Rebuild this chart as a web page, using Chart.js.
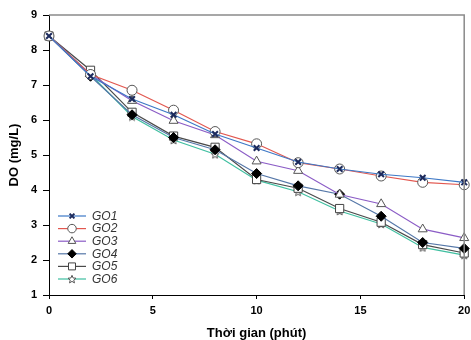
<!DOCTYPE html>
<html>
<head>
<meta charset="utf-8">
<script src="https://cdn.jsdelivr.net/npm/chart.js@4.4.1/dist/chart.umd.min.js"></script>
<style>
  body { margin: 0; background: #fff; }
  canvas { display: block; }
</style>
</head>
<body>
<canvas id="doChart" width="471" height="340"></canvas>
<script>
// Time (minutes) and DO values (mg/L)
const times = [0, 2, 4, 6, 8, 10, 12, 14, 16, 18, 20];
const go1 = [8.4, 7.25, 6.6, 6.15, 5.6, 5.2, 4.8, 4.6, 4.45, 4.35, 4.22];
const go2 = [8.4, 7.3, 6.85, 6.28, 5.67, 5.32, 4.78, 4.6, 4.4, 4.22, 4.15];
const go3 = [8.4, 7.3, 6.55, 5.98, 5.57, 4.82, 4.55, 3.87, 3.6, 2.88, 2.63];
const go4 = [8.4, 7.25, 6.15, 5.5, 5.15, 4.47, 4.12, 3.88, 3.25, 2.5, 2.33];
const go5 = [8.4, 7.42, 6.22, 5.54, 5.22, 4.3, 4.05, 3.47, 3.08, 2.44, 2.2];
const go6 = [8.4, 7.3, 6.1, 5.43, 5.02, 4.28, 3.95, 3.4, 3.03, 2.36, 2.14];
const seriesNames = ['GO1', 'GO2', 'GO3', 'GO4', 'GO5', 'GO6'];
const xTicks = [0, 5, 10, 15, 20];
const yTicks = [1, 2, 3, 4, 5, 6, 7, 8, 9];

// small outlined star used for GO6
function makeStar(size) {
    const c = document.createElement('canvas');
    c.width = size; c.height = size;
    const g = c.getContext('2d');
    const cx = size / 2, cy = size / 2 + 0.5, ro = size / 2 - 0.8, ri = ro * 0.45;
    g.beginPath();
    for (let i = 0; i < 10; i++) {
        const r = i % 2 === 0 ? ro : ri;
        const a = -Math.PI / 2 + i * Math.PI / 5;
        g.lineTo(cx + r * Math.cos(a), cy + r * Math.sin(a));
    }
    g.closePath();
    g.fillStyle = '#fff';
    g.fill();
    g.strokeStyle = '#555';
    g.lineWidth = 1;
    g.stroke();
    return c;
}
const starImg = makeStar(10);

const lineColors = ['#3d78c6', '#e2574f', '#8b5cc6', '#5577a8', '#4a4a4a', '#3fbfa0'];
const values = [go1, go2, go3, go4, go5, go6];
const markers = [
    { pointStyle: 'crossRot', pointRadius: 4, pointBackgroundColor: '#1c2a5c', pointBorderColor: '#1c2a5c', pointBorderWidth: 2 },
    { pointStyle: 'circle', pointRadius: 5, pointBackgroundColor: '#fff', pointBorderColor: '#555', pointBorderWidth: 1 },
    { pointStyle: 'triangle', pointRadius: 5.2, pointBackgroundColor: '#fff', pointBorderColor: '#555', pointBorderWidth: 1 },
    { pointStyle: 'rectRot', pointRadius: 5, pointBackgroundColor: '#000', pointBorderColor: '#000', pointBorderWidth: 1 },
    { pointStyle: 'rect', pointRadius: 5.8, pointBackgroundColor: '#fff', pointBorderColor: '#444', pointBorderWidth: 1 },
    { pointStyle: starImg, pointRadius: 5, pointBackgroundColor: '#fff', pointBorderColor: '#555', pointBorderWidth: 1 }
];

const datasets = seriesNames.map((name, i) => Object.assign({
    label: name,
    data: times.map((t, j) => ({ x: t, y: values[i][j] })),
    borderColor: lineColors[i],
    borderWidth: 1.2,
    tension: 0,
    clip: false
}, markers[i]));

// frame on top/right plus the in-plot legend
const framePlugin = {
    id: 'frameAndLegend',
    afterDatasetsDraw(chart) {
        const { ctx, chartArea: a } = chart;
        ctx.save();
        ctx.strokeStyle = '#8a8a8a';
        ctx.lineWidth = 1.5;
        ctx.beginPath();
        ctx.moveTo(a.left, a.top);
        ctx.lineTo(a.right, a.top);
        ctx.lineTo(a.right, a.bottom);
        ctx.stroke();

        // legend
        const x0 = 58, x1 = 86, tx = 92;
        let y = 216;
        chart.data.datasets.forEach((ds) => {
            ctx.strokeStyle = ds.borderColor;
            ctx.lineWidth = 1.2;
            ctx.beginPath();
            ctx.moveTo(x0, y);
            ctx.lineTo(x1, y);
            ctx.stroke();
            ctx.fillStyle = ds.pointBackgroundColor;
            ctx.strokeStyle = ds.pointBorderColor;
            ctx.lineWidth = ds.pointBorderWidth;
            Chart.helpers.drawPoint(ctx, {
                pointStyle: ds.pointStyle,
                radius: ds.pointRadius * 0.85,
                rotation: 0,
                borderWidth: ds.pointBorderWidth
            }, (x0 + x1) / 2, y);
            ctx.fillStyle = '#333';
            ctx.font = 'italic 12px "Liberation Sans", Arial, sans-serif';
            ctx.textBaseline = 'middle';
            ctx.textAlign = 'left';
            ctx.fillText(ds.label, tx, y + 0.5);
            y += 12.6;
        });
        ctx.restore();
    }
};

const tickFont = { family: '"Liberation Sans", Arial, sans-serif', size: 11, weight: 'bold' };
const titleFont = { family: '"Liberation Sans", Arial, sans-serif', size: 13, weight: 'bold' };

new Chart(document.getElementById('doChart').getContext('2d'), {
    type: 'line',
    data: { datasets: datasets },
    options: {
        responsive: false,
        animation: false,
        devicePixelRatio: 1,
        layout: { padding: { top: 15, right: 0, bottom: 0, left: 0 } },
        plugins: {
            legend: { display: false },
            tooltip: { enabled: false }
        },
        scales: {
            x: {
                type: 'linear',
                min: 0,
                max: 20,
                afterBuildTicks: (scale) => { scale.ticks = xTicks.map(v => ({ value: v })); },
                afterFit: (scale) => { scale.height = 45; scale.paddingRight = 6; },
                grid: { drawOnChartArea: false, tickLength: 4, color: '#000' },
                border: { color: '#000', width: 1 },
                ticks: { color: '#000', font: tickFont, padding: 5, maxRotation: 0 },
                title: { display: true, text: 'Thời gian (phút)', color: '#000', font: titleFont, padding: { top: 0, bottom: -1 } }
            },
            y: {
                min: 1,
                max: 9,
                afterBuildTicks: (scale) => { scale.ticks = yTicks.map(v => ({ value: v })); },
                afterFit: (scale) => { scale.width = 49; },
                grid: { drawOnChartArea: false, tickLength: 6, color: '#000' },
                border: { color: '#000', width: 1 },
                ticks: { color: '#000', font: tickFont, padding: 6 },
                title: { display: true, text: 'DO (mg/L)', color: '#000', font: titleFont, padding: { top: 7, bottom: 0 } }
            }
        }
    },
    plugins: [framePlugin]
});
</script>
</body>
</html>
